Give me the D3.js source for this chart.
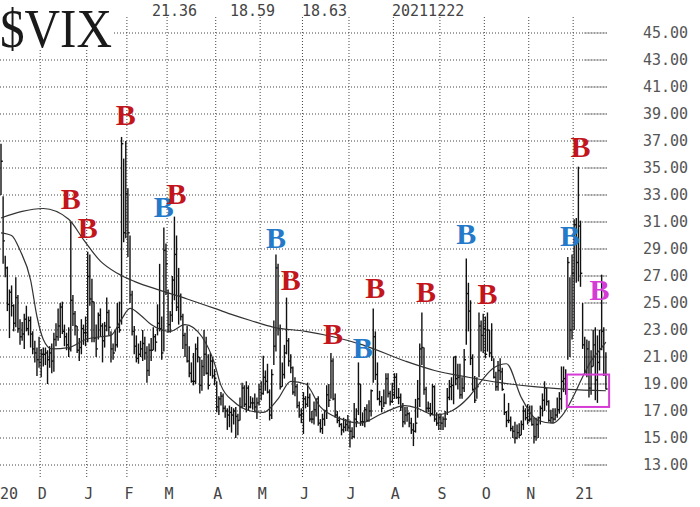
<!DOCTYPE html>
<html><head><meta charset="utf-8">
<script src="https://cdn.jsdelivr.net/npm/d3@7"></script>
<style>html,body{margin:0;padding:0;background:#fff;}svg{display:block;}</style>
</head><body>
<svg id="c" width="700" height="507"></svg>
<script>
// ---- DATA ----
const monthLabels = ["20","D","J","F","M","A","M","J","J","A","S","O","N","21"];
const monthDays   = [19,22,19,19,23,21,20,22,21,22,21,21,21,16]; // trading days per month (Nov 2020 .. Dec 2021)
const yTicks = [45,43,41,39,37,35,33,31,29,27,25,23,21,19,17,15,13];
const headerValues = ["21.36","18.59","18.63","20211222"];

const high = [
// Nov 2020
36.8,32.9,28.5,27.7,26.0,26.3,24.9,26.9,25.6,23.8,23.6,24.2,24.8,24.0,24.0,22.9,22.2,21.7,22.5,
// Dec 2020
21.6,21.7,21.7,21.5,21.8,22.0,22.8,23.5,24.6,25.0,25.1,23.4,22.8,23.2,31.0,25.6,24.4,23.3,22.4,23.8,23.4,24.0,
// Jan 2021
28.8,28.6,26.8,25.1,23.4,24.3,24.6,23.5,23.6,25.4,24.5,22.9,22.0,23.0,25.0,25.1,37.3,35.7,37.0,
// Feb
33.5,30.0,25.9,23.3,22.6,22.0,22.2,23.0,22.5,21.8,22.0,22.4,23.2,22.7,24.9,27.9,24.0,30.6,29.4,
// Mar
26.0,24.4,27.0,31.4,30.0,27.6,25.7,24.2,22.8,23.3,21.8,20.6,21.3,22.0,22.5,21.0,20.8,23.0,22.5,21.2,21.3,21.0,20.1,
// Apr
19.2,18.1,18.4,18.3,17.4,17.2,17.4,17.3,17.2,17.3,16.8,18.0,19.1,18.9,19.2,18.9,18.1,18.0,18.3,18.0,19.0,
// May
19.2,21.1,20.0,20.5,18.6,20.1,23.7,28.6,27.9,23.4,20.6,21.9,25.4,22.4,21.2,20.3,19.5,19.0,17.7,17.2,
// Jun
18.4,18.1,19.1,18.3,17.0,17.7,17.9,18.1,16.4,16.8,17.1,18.9,19.0,21.3,20.9,18.3,17.0,16.6,16.1,16.5,16.4,16.7,
// Jul
16.3,15.8,17.6,17.2,20.6,19.0,16.9,17.3,17.5,17.8,18.6,24.6,22.9,20.6,18.5,18.1,18.6,19.8,19.8,18.5,19.1,
// Aug
19.8,19.8,18.7,18.3,17.6,17.3,17.3,16.9,16.5,16.1,17.9,19.3,22.0,24.3,21.7,18.8,17.7,17.6,19.0,18.9,16.9,16.8,
// Sep
16.8,16.6,17.0,18.7,19.3,19.5,21.0,21.1,20.5,20.5,19.5,21.6,28.3,26.5,25.2,21.2,19.6,19.5,24.3,23.7,24.2,
// Oct
24.0,24.3,23.0,23.5,20.9,19.9,20.7,20.9,20.2,18.3,17.0,17.6,16.6,15.9,16.2,16.0,16.1,16.3,17.4,17.2,17.5,
// Nov
17.4,17.4,16.5,16.5,16.6,17.4,18.3,19.2,18.7,17.8,17.1,17.2,17.2,18.0,18.4,20.3,20.3,20.1,28.4,26.9,28.6,
// Dec 2021
31.2,31.3,35.1,31.1,25.0,22.5,22.3,22.2,21.5,23.0,23.2,22.6,23.0,27.1,23.2,21.36
];
const low = [
33.0,27.9,26.9,24.4,22.4,24.0,22.9,23.2,22.8,21.9,22.2,21.6,22.9,22.6,21.7,21.2,20.6,19.6,20.2,
19.5,20.3,20.4,19.0,20.2,19.8,19.9,21.8,22.2,22.4,22.7,21.8,21.5,21.0,21.4,23.3,22.6,21.3,20.7,21.2,21.9,21.8,
22.1,24.8,22.1,22.1,21.0,22.3,22.5,20.6,21.7,22.9,22.6,20.6,20.8,21.4,21.7,22.8,23.4,29.5,29.8,
28.4,25.0,22.6,21.2,20.6,20.5,21.0,20.7,20.8,19.1,19.6,20.7,21.5,21.4,22.6,22.9,20.8,21.4,25.6,
22.8,22.8,23.6,25.2,24.4,23.4,23.7,21.6,21.0,20.6,19.5,19.1,18.9,19.0,20.6,18.3,18.5,19.6,19.7,18.6,19.6,19.4,18.9,
16.9,16.7,17.4,16.9,16.5,15.6,15.8,15.4,16.0,15.0,15.2,16.3,17.2,17.3,16.9,17.0,17.2,17.1,16.9,16.4,17.4,
17.8,18.2,18.5,18.3,16.3,16.4,20.4,21.4,22.6,18.6,18.8,19.4,21.2,20.3,19.8,18.2,18.1,17.2,16.5,16.1,
15.3,17.2,17.3,16.2,16.1,16.0,16.6,15.9,15.4,15.3,15.9,16.4,17.3,17.9,17.8,16.5,16.1,15.8,15.2,15.4,15.5,15.5,
14.3,14.9,15.0,15.8,16.7,15.9,15.9,15.8,16.2,16.2,16.6,19.1,19.3,17.8,17.4,16.9,17.3,17.5,18.0,17.4,17.6,
17.9,17.9,17.5,17.0,15.8,16.0,16.2,15.8,15.3,14.4,15.4,16.5,17.3,20.4,18.2,16.9,16.9,16.6,16.7,16.2,15.9,15.6,
15.6,15.6,15.8,16.7,17.8,17.8,17.5,18.9,18.6,17.9,17.9,18.4,21.9,22.9,20.4,18.5,17.6,17.9,19.5,21.4,21.3,
20.9,21.4,21.0,20.7,19.4,18.5,18.5,19.3,18.5,16.7,15.8,16.1,15.5,15.0,14.6,14.9,15.0,15.2,15.6,16.3,16.0,
16.2,15.9,14.6,14.8,15.0,16.0,16.6,17.0,17.4,16.2,16.1,16.1,16.3,16.5,16.8,17.1,18.4,18.2,20.8,21.0,22.3,
23.0,26.5,26.6,26.2,21.6,19.7,19.5,18.0,18.2,20.3,17.8,17.6,20.0,21.5,19.6,18.59
];
const close = [
35.5,29.6,27.6,24.9,25.8,24.8,23.5,25.4,23.1,22.5,22.7,23.8,23.1,23.7,22.7,21.6,21.3,20.8,20.6,
21.2,21.2,21.3,20.8,21.3,20.7,22.3,22.5,23.3,24.7,22.9,22.5,21.9,21.6,25.2,24.2,23.3,21.5,21.7,23.1,22.8,22.8,
26.97,25.3,25.1,22.4,21.6,24.1,23.3,22.2,23.3,24.3,23.2,21.6,21.3,21.9,23.2,23.0,36.8,30.2,33.1,
30.2,25.6,22.9,21.8,20.9,21.2,21.6,22.0,21.3,20.0,21.5,21.5,22.5,22.1,23.5,23.1,21.3,28.9,27.9,
23.4,24.1,26.7,28.6,24.7,25.5,24.0,22.6,21.9,20.7,19.8,19.2,19.2,21.6,21.0,18.9,20.3,21.2,19.8,18.9,20.7,19.6,19.4,
17.3,17.9,18.1,17.2,17.0,16.7,16.9,16.7,17.0,16.6,16.3,17.3,18.7,17.5,18.7,17.3,17.6,17.6,17.3,17.6,18.6,
18.3,19.5,19.2,18.4,16.7,19.7,21.8,27.6,23.1,18.8,19.7,21.3,22.2,20.7,20.2,18.4,18.8,17.4,16.7,16.8,
17.9,17.5,18.0,16.4,16.4,17.1,17.9,16.1,15.7,16.4,17.0,18.2,17.8,20.7,17.9,16.7,16.3,16.0,15.6,15.8,16.0,15.8,
15.5,15.1,16.4,16.2,19.0,16.2,16.2,17.1,16.3,17.0,18.5,22.5,19.7,17.9,17.7,17.2,17.6,19.4,18.3,17.7,18.2,
19.5,18.0,18.0,17.3,16.2,16.7,16.8,16.1,15.6,15.5,16.1,17.9,21.6,21.7,18.6,17.2,17.2,16.8,18.8,16.4,16.1,16.5,
16.1,16.4,16.4,18.0,18.8,18.9,21.0,19.4,19.5,18.2,18.7,20.8,25.7,24.4,20.9,18.6,17.8,18.8,23.3,22.6,23.1,
21.2,23.0,21.3,21.0,19.5,18.8,20.0,19.9,18.6,16.9,16.3,16.3,15.7,15.5,15.0,15.4,15.2,16.0,17.0,16.5,16.3,
16.4,16.0,15.1,16.0,16.5,17.2,17.8,18.7,17.7,16.3,16.5,16.4,16.7,17.1,17.9,19.2,19.4,18.6,28.0,23.0,27.2,
30.8,28.0,30.7,27.2,21.9,19.9,21.6,18.7,20.3,21.9,19.3,20.6,21.6,22.9,19.7,18.63
];
// moving averages: [trading-day index, value]
const maLong = [[0,31.3],[20,32.0],[32,31.2],[39,29.7],[47,28.1],[55,27.2],[63,26.6],[76,25.9],[88,25.3],[101,24.6],[110,24.1],[118,23.7],[129,23.2],[144,22.9],[157,22.5],[171,21.9],[191,20.7],[205,20.0],[221,19.5],[236,19.1],[252,18.8],[268,18.6],[286,18.5]];
const maShort = [[0,30.2],[5,30.0],[9,28.9],[14,26.7],[17,24.0],[20,22.3],[24,21.6],[32,21.7],[40,22.3],[47,22.5],[52,22.6],[57,23.8],[61,24.6],[66,24.1],[71,23.4],[76,23.0],[80,22.9],[87,23.4],[95,22.5],[101,20.5],[104,18.9],[110,17.7],[118,17.0],[124,16.9],[131,17.9],[137,19.2],[144,19.0],[151,17.3],[161,16.4],[170,16.1],[180,16.8],[191,17.4],[197,17.2],[205,16.7],[213,17.0],[221,18.0],[227,19.2],[233,20.2],[239,20.5],[246,18.0],[254,16.3],[261,16.1],[265,16.6],[268,17.3],[271,18.2],[274,19.2],[279,20.7],[284,21.7],[286,22.1]];
// "B" signals: day index, colour class, level (value at letter baseline)
const signals = [
  {day:33,kind:"red",level:32.0},{day:41,kind:"red",level:29.8},{day:59,kind:"red",level:38.2},
  {day:77,kind:"blue",level:31.4},{day:83,kind:"red",level:32.3},{day:130,kind:"blue",level:29.1},
  {day:137,kind:"red",level:26.0},{day:157,kind:"red",level:22.0},{day:171,kind:"blue",level:20.9},
  {day:177,kind:"red",level:25.4},{day:201,kind:"red",level:25.1},{day:220,kind:"blue",level:29.4},
  {day:230,kind:"red",level:24.9},{day:269,kind:"blue",level:29.2},{day:274,kind:"red",level:35.8},
  {day:283,kind:"magenta",level:25.2}
];
const boxRange = {dayFrom:268, dayTo:288, top:19.7, bottom:17.3};

// ---- DRAW ----
const svg = d3.select("#c");
const N = 287;
const x = d3.scaleLinear().domain([0, N]).range([0, 607]);
const y = d3.scaleLinear().domain([13, 45]).range([465, 33]);
const colors = {red:"#c3161c", blue:"#2479c9", magenta:"#d53bd5"};
const monoFont = "'DejaVu Sans Mono', 'Liberation Mono', monospace";

// month start indices
const monthStart = [];
let acc = 0;
monthDays.forEach(d => { monthStart.push(acc); acc += d; });

// horizontal grid
const grid = svg.append("g");
yTicks.forEach(v => {
  grid.append("line").attr("x1", 0).attr("x2", 607).attr("y1", y(v)).attr("y2", y(v))
    .attr("stroke", "#444").attr("stroke-width", 1).attr("stroke-dasharray", "1,2");
  grid.append("line").attr("x1", 584).attr("x2", 607).attr("y1", y(v)).attr("y2", y(v))
    .attr("stroke", "#999").attr("stroke-width", 1);
});
// vertical grid
monthStart.slice(1).forEach(i => {
  grid.append("line").attr("x1", x(i)).attr("x2", x(i)).attr("y1", 17).attr("y2", 478)
    .attr("stroke", "#444").attr("stroke-width", 1).attr("stroke-dasharray", "1,2");
});

// bars
const bars = svg.append("g").attr("stroke", "#111").attr("stroke-width", 1.4);
d3.range(N).forEach(i => {
  const cx = x(i) + 1;
  bars.append("line").attr("x1", cx).attr("x2", cx).attr("y1", y(high[i])).attr("y2", y(low[i]));
  bars.append("line").attr("x1", cx).attr("x2", cx + 1.8).attr("y1", y(close[i])).attr("y2", y(close[i]));
});

// moving averages
const line = d3.line().x(d => x(d[0]) + 1).y(d => y(d[1])).curve(d3.curveMonotoneX);
svg.append("path").attr("d", line(maLong)).attr("fill", "none").attr("stroke", "#333").attr("stroke-width", 1.2);
svg.append("path").attr("d", line(maShort)).attr("fill", "none").attr("stroke", "#333").attr("stroke-width", 1.2);

// magenta box
svg.append("rect").attr("x", x(boxRange.dayFrom)).attr("y", y(boxRange.top))
  .attr("width", x(boxRange.dayTo) - x(boxRange.dayFrom)).attr("height", y(boxRange.bottom) - y(boxRange.top))
  .attr("fill", "none").attr("stroke", colors.magenta).attr("stroke-width", 2);

// B signals
svg.append("g").selectAll("text").data(signals).join("text")
  .attr("x", d => x(d.day) + 1).attr("y", d => y(d.level))
  .attr("text-anchor", "middle")
  .attr("font-family", "'Liberation Serif', 'DejaVu Serif', serif")
  .attr("font-weight", "bold").attr("font-size", 30)
  .attr("fill", d => colors[d.kind]).text("B");

// title with white backing
svg.append("rect").attr("x", 0).attr("y", 0).attr("width", 113).attr("height", 50).attr("fill", "#fff");
svg.append("text").attr("x", 0).attr("y", 47)
  .attr("font-family", "'Liberation Serif', 'DejaVu Serif', serif").attr("font-size", 54)
  .attr("textLength", 112).attr("lengthAdjust", "spacingAndGlyphs")
  .attr("fill", "#1a1a1a").text("$VIX");

// header values
const headerX = [152, 230, 302, 392];
headerValues.forEach((t, k) => {
  svg.append("text").attr("x", headerX[k]).attr("y", 16)
    .attr("font-family", monoFont).attr("font-size", 15).attr("fill", "#444").text(t);
});

// y axis labels
yTicks.forEach(v => {
  svg.append("text").attr("x", 643).attr("y", y(v)).attr("dy", "0.36em")
    .attr("font-family", monoFont).attr("font-size", 15).attr("fill", "#555").text(v.toFixed(2));
});

// month labels
monthLabels.forEach((t, k) => {
  const xi = k === 0 ? 0 : x(monthStart[k]);
  svg.append("text").attr("x", k === 0 ? 0 : xi + 2)
    .attr("y", 499).attr("text-anchor", k === 0 || t.length > 1 ? "start" : "middle")
    .attr("font-family", monoFont).attr("font-size", 15).attr("fill", "#444").text(t);
});
</script>
</body></html>
